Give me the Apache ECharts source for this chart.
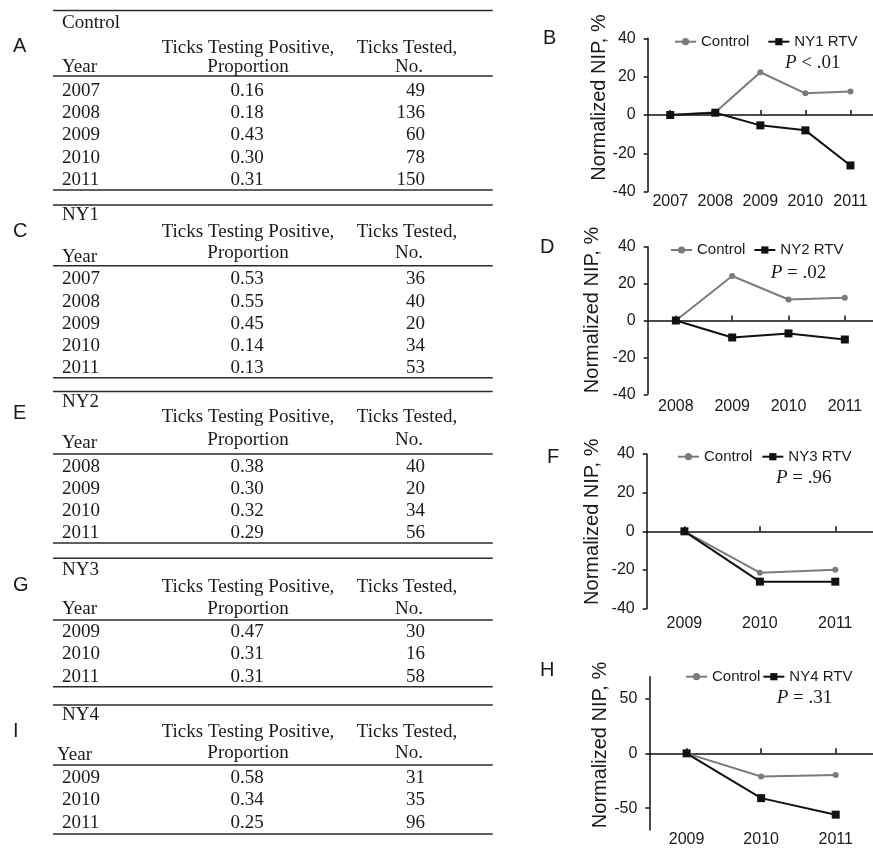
<!DOCTYPE html>
<html><head><meta charset="utf-8">
<script src="https://cdn.jsdelivr.net/npm/echarts@6/dist/echarts.min.js"></script>
<style>html,body{margin:0;padding:0;background:#fff}#c{width:873px;height:849px}</style>
</head><body><div id="c"></div>
<script>
// ---------- DATA ----------
// Tables
const tableLetters = ['A', 'C', 'E', 'G', 'I'];
const tableTitles = ['Control', 'NY1', 'NY2', 'NY3', 'NY4'];
const yearsA = ['2007', '2008', '2009', '2010', '2011'];
const propA = ['0.16', '0.18', '0.43', '0.30', '0.31'];
const testedA = ['49', '136', '60', '78', '150'];
const yearsC = ['2007', '2008', '2009', '2010', '2011'];
const propC = ['0.53', '0.55', '0.45', '0.14', '0.13'];
const testedC = ['36', '40', '20', '34', '53'];
const yearsE = ['2008', '2009', '2010', '2011'];
const propE = ['0.38', '0.30', '0.32', '0.29'];
const testedE = ['40', '20', '34', '56'];
const yearsG = ['2009', '2010', '2011'];
const propG = ['0.47', '0.31', '0.31'];
const testedG = ['30', '16', '58'];
const yearsI = ['2009', '2010', '2011'];
const propI = ['0.58', '0.34', '0.25'];
const testedI = ['31', '35', '96'];
const headPositive = ['Ticks Testing Positive,', 'Proportion'];
const headTested = ['Ticks Tested,', 'No.'];
const headYear = 'Year';

// Charts
const chartLetters = ['B', 'D', 'F', 'H'];
const yName = 'Normalized NIP, %';
const controlName = 'Control';
const catsB = ['2007', '2008', '2009', '2010', '2011'];
const controlB = [0, 1.4, 22.3, 11.3, 12.3];
const ny1B = [0, 1.2, -5.4, -8.0, -26.3];
const catsD = ['2008', '2009', '2010', '2011'];
const controlD = [0, 24.1, 11.4, 12.3];
const ny2D = [0, -9.2, -7.0, -10.3];
const catsF = ['2009', '2010', '2011'];
const controlF = [0, -21.4, -19.8];
const ny3F = [0, -26.0, -26.0];
const catsH = ['2009', '2010', '2011'];
const controlH = [0, -21.2, -19.7];
const ny4H = [0, -40.9, -56.0];
const rtvNames = ['NY1 RTV', 'NY2 RTV', 'NY3 RTV', 'NY4 RTV'];
const pTexts = [['P', ' < .01'], ['P', ' = .02'], ['P', ' = .96'], ['P', ' = .31']];
const yTicksH = [-50, 0, 50];

// ---------- STYLE / LAYOUT ----------
const SANS = '"Liberation Sans", Arial, Helvetica, sans-serif';
const SERIF = '"Liberation Serif", "Times New Roman", serif';
const INK = '#1a1a1a';
const GRAY = '#7b7b7b';
const BLACK = '#111111';

const tables = [
  {years: yearsA, prop: propA, n: testedA, top: 10.5, title: 23, head1: 48.3, yearY: 66.7, propY: 66.7, headLine: 76, row0: 90.7, step: 22.3, bottom: 190, letterY: 46.5, yearX: 62},
  {years: yearsC, prop: propC, n: testedC, top: 205, title: 215.5, head1: 231.7, yearY: 256.7, propY: 253.3, headLine: 265.7, row0: 279.5, step: 22.1, bottom: 377.7, letterY: 231.7, yearX: 62},
  {years: yearsE, prop: propE, n: testedE, top: 391.5, title: 401.7, head1: 416.7, yearY: 443.3, propY: 440, headLine: 454, row0: 466.8, step: 22, bottom: 543, letterY: 413, yearX: 62},
  {years: yearsG, prop: propG, n: testedG, top: 558.3, title: 570, head1: 586.7, yearY: 609.3, propY: 609, headLine: 620, row0: 631.7, step: 22.5, bottom: 686.7, letterY: 585, yearX: 62},
  {years: yearsI, prop: propI, n: testedI, top: 705, title: 715, head1: 731.7, yearY: 755, propY: 753, headLine: 765, row0: 778, step: 22.5, bottom: 834, letterY: 731.7, yearX: 57}
];
const TL = 53, TR = 492.7, COL_YEAR = 62, COL_PROP = 248, COL_TESTED_R = 425;

const panels = [
  {cats: catsB, control: controlB, rtv: ny1B, left: 647.7, top: 38.3, width: 230, height: 153.4, min: -40, max: 40, interval: 20,
   labelMargin: 2, legendLeft: 674, legendY: 41.7, legendGap: 18, pX: 785, pY: 63.3, letterX: 543, letterY: 38.5, nameX: 599, nameY: 97.5},
  {cats: catsD, control: controlD, rtv: ny2D, left: 647.7, top: 246.7, width: 228, height: 147.6, min: -40, max: 40, interval: 20,
   labelMargin: 4, legendLeft: 670, legendY: 250, legendGap: 8, pX: 770.7, pY: 273.3, letterX: 540, letterY: 247, nameX: 592, nameY: 310},
  {cats: catsF, control: controlF, rtv: ny3F, left: 646.7, top: 454, width: 231, height: 154.7, min: -40, max: 40, interval: 20,
   labelMargin: 7, legendLeft: 677, legendY: 456.7, legendGap: 9, pX: 776, pY: 478.3, letterX: 547, letterY: 457, nameX: 592, nameY: 521.7},
  {cats: catsH, control: controlH, rtv: ny4H, left: 649.3, top: 676.7, width: 232.5, height: 153.3, min: -70, max: 70, custom: yTicksH,
   labelMargin: 2, legendLeft: 685, legendY: 676.7, legendGap: 2, pX: 776.7, pY: 698.3, letterX: 540, letterY: 670, nameX: 600, nameY: 745}
];

// ---------- BUILD ----------
const graphics = [];
function txt(text, x, y, align, font, fill, extra) {
  graphics.push(Object.assign({type: 'text', x: x, y: y, silent: true,
    style: {text: text, align: align, verticalAlign: 'middle', font: font, fill: fill || INK}}, extra || {}));
}
function hline(x1, x2, y, w) {
  graphics.push({type: 'line', silent: true, shape: {x1: x1, y1: y, x2: x2, y2: y}, style: {stroke: '#2a2a2a', lineWidth: w || 1.5}});
}
const TFONT = '19px ' + SERIF;
tables.forEach(function (t, k) {
  txt(tableLetters[k], 13, t.letterY, 'left', '20px ' + SANS);
  hline(TL, TR, t.top);
  txt(tableTitles[k], COL_YEAR, t.title, 'left', TFONT);
  txt(headPositive[0], COL_PROP, t.head1, 'center', TFONT);
  txt(headTested[0], 407, t.head1, 'center', TFONT);
  txt(headYear, t.yearX, t.yearY, 'left', TFONT);
  txt(headPositive[1], COL_PROP, t.propY, 'center', TFONT);
  txt(headTested[1], 409, t.propY, 'center', TFONT);
  hline(TL, TR, t.headLine);
  t.years.forEach(function (yr, r) {
    const y = t.row0 + r * t.step;
    txt(yr, COL_YEAR, y, 'left', TFONT);
    txt(t.prop[r], 247, y, 'center', TFONT);
    txt(t.n[r], COL_TESTED_R, y, 'right', TFONT);
  });
  hline(TL, TR, t.bottom);
});

const grid = [], xAxis = [], yAxis = [], series = [], legend = [];
const axisLineStyle = {color: BLACK, width: 1.5};
panels.forEach(function (p, i) {
  grid.push({left: p.left, top: p.top, width: p.width, height: p.height, containLabel: false});
  xAxis.push({type: 'category', gridIndex: i, data: p.cats, boundaryGap: true,
    axisLine: {show: false, onZero: false}, axisTick: {show: false}, splitLine: {show: false},
    axisLabel: {interval: 0, margin: p.labelMargin, fontSize: 16, fontFamily: SANS, color: INK}});
  xAxis.push({type: 'category', gridIndex: i, data: p.cats, boundaryGap: true,
    axisLine: {show: true, onZero: true, lineStyle: axisLineStyle},
    axisTick: {show: true, alignWithLabel: true, length: 5, lineStyle: axisLineStyle},
    axisLabel: {show: false}, splitLine: {show: false}});
  const ya = {type: 'value', gridIndex: i, min: p.min, max: p.max,
    axisLine: {show: true, onZero: false, lineStyle: axisLineStyle},
    axisTick: {show: true, length: 4, lineStyle: axisLineStyle},
    axisLabel: {margin: 12, fontSize: 16, fontFamily: SANS, color: INK},
    splitLine: {show: false}};
  if (p.custom) {
    ya.axisLabel.customValues = p.custom;
    ya.axisTick.customValues = p.custom;
  } else {
    ya.interval = p.interval;
  }
  yAxis.push(ya);
  series.push({type: 'line', name: controlName, xAxisIndex: 2 * i, yAxisIndex: i, data: p.control,
    symbol: 'circle', symbolSize: 6, showAllSymbol: true, animation: false,
    lineStyle: {color: GRAY, width: 2}, itemStyle: {color: GRAY}, z: 3});
  series.push({type: 'line', name: rtvNames[i], xAxisIndex: 2 * i, yAxisIndex: i, data: p.rtv,
    symbol: 'rect', symbolSize: 8, showAllSymbol: true, animation: false,
    lineStyle: {color: BLACK, width: 2}, itemStyle: {color: BLACK}, z: 4});
  legend.push({left: p.legendLeft, top: p.legendY - 8.5, padding: 0, orient: 'horizontal',
    itemWidth: 21, itemHeight: 9, itemGap: p.legendGap, selectedMode: false,
    data: [controlName, rtvNames[i]],
    textStyle: {fontSize: 15, fontFamily: SANS, color: INK, lineHeight: 17}});
  txt(chartLetters[i], p.letterX, p.letterY, 'left', '20px ' + SANS);
  graphics.push({type: 'text', x: p.nameX, y: p.nameY, rotation: Math.PI / 2, silent: true,
    style: {text: yName, align: 'center', verticalAlign: 'middle', font: '20px ' + SANS, fill: INK}});
  graphics.push({type: 'text', x: p.pX, y: p.pY, silent: true,
    style: {text: '{i|' + pTexts[i][0] + '}{n|' + pTexts[i][1] + '}', verticalAlign: 'middle', align: 'left',
      rich: {i: {fontStyle: 'italic', fontFamily: SERIF, fontSize: 19, fill: INK},
             n: {fontFamily: SERIF, fontSize: 19, fill: INK}}}});
});

const chart = echarts.init(document.getElementById('c'), null, {renderer: 'canvas'});
chart.setOption({
  animation: false,
  backgroundColor: '#ffffff',
  grid: grid, xAxis: xAxis, yAxis: yAxis, series: series, legend: legend,
  graphic: {elements: graphics}
});
</script></body></html>
